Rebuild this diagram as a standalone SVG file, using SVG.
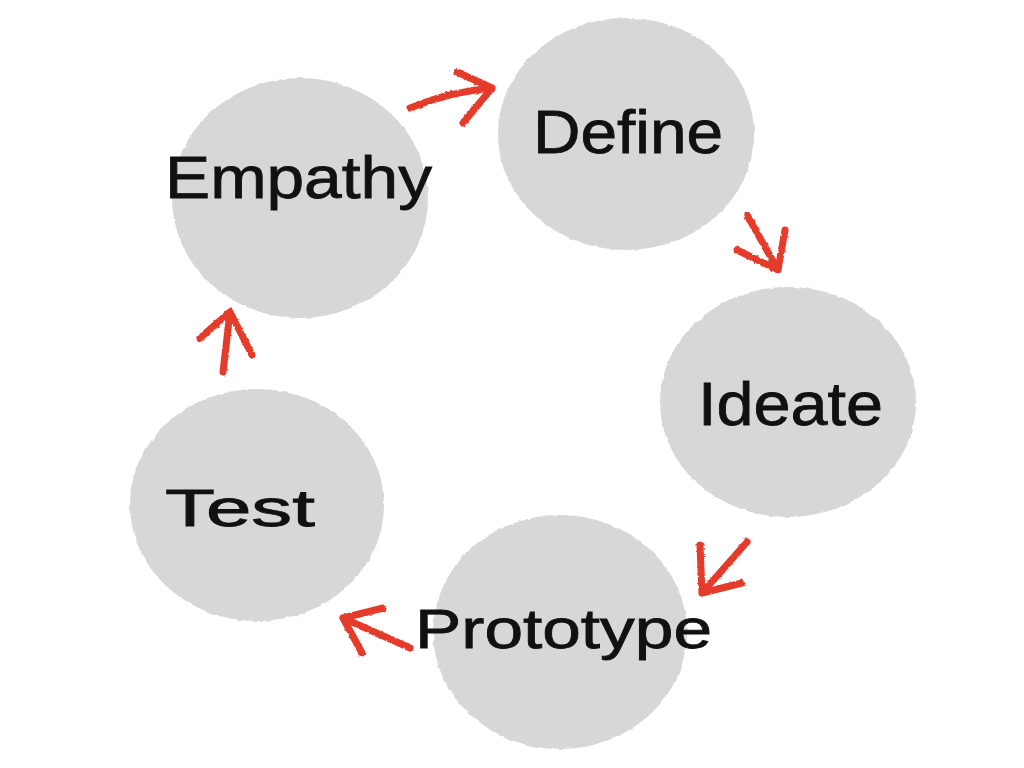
<svg xmlns="http://www.w3.org/2000/svg" width="1024" height="768" viewBox="0 0 1024 768">
  <style>
    .bubble { fill: #d7d7d7; filter: url(#rough); }
    .label { font-family: "Liberation Sans", "DejaVu Sans", sans-serif; fill: #111111; stroke: #111111; stroke-width: 0.8; }
    .arrow { fill: none; stroke: #e43a2a; stroke-width: 7; stroke-linecap: round; stroke-linejoin: round; filter: url(#brush); }
  </style>
  <defs>
    <filter id="rough" x="-10%" y="-10%" width="120%" height="120%">
      <feTurbulence type="fractalNoise" baseFrequency="0.12" numOctaves="2" seed="3" result="n"/>
      <feDisplacementMap in="SourceGraphic" in2="n" scale="3" xChannelSelector="R" yChannelSelector="G"/>
    </filter>
    <filter id="brush" x="-20%" y="-20%" width="140%" height="140%">
      <feTurbulence type="fractalNoise" baseFrequency="0.3" numOctaves="1" seed="7" result="n"/>
      <feDisplacementMap in="SourceGraphic" in2="n" scale="3" xChannelSelector="R" yChannelSelector="G"/>
    </filter>
  </defs>
  <rect width="1024" height="768" fill="#ffffff"/>

  <g id="node-empathy">
    <ellipse class="bubble" cx="300" cy="198" rx="128" ry="120"/>
    <text class="label" x="165" y="198" font-size="60" textLength="267" lengthAdjust="spacingAndGlyphs">Empathy</text>
  </g>
  <g id="node-define">
    <ellipse class="bubble" cx="626" cy="134" rx="128" ry="116"/>
    <text class="label" x="533" y="153" font-size="62" textLength="190" lengthAdjust="spacingAndGlyphs">Define</text>
  </g>
  <g id="node-ideate">
    <ellipse class="bubble" cx="788" cy="402" rx="128" ry="115"/>
    <text class="label" x="698" y="425" font-size="62" textLength="185" lengthAdjust="spacingAndGlyphs">Ideate</text>
  </g>
  <g id="node-prototype">
    <ellipse class="bubble" cx="560" cy="632" rx="127" ry="117"/>
    <text class="label" x="415" y="648" font-size="56" textLength="297" lengthAdjust="spacingAndGlyphs">Prototype</text>
  </g>
  <g id="node-test">
    <ellipse class="bubble" cx="257" cy="505" rx="127" ry="116"/>
    <text class="label" x="165" y="526" font-size="52" textLength="150" lengthAdjust="spacingAndGlyphs">Test</text>
  </g>

  <g id="connectors">
    <path class="arrow" d="M410,108 Q448,92 492,88 M457,72 L492,88 L463,123"/>
    <path class="arrow" d="M747,215 L778,270 M785,230 L778,270 L737,250"/>
    <path class="arrow" d="M747,542 L702,593 M700,545 L702,593 L742,583"/>
    <path class="arrow" d="M410,648 L343,618 M383,608 L343,618 L362,653"/>
    <path class="arrow" d="M223,372 L230,312 M200,338 L230,312 L252,355"/>
  </g>
</svg>
